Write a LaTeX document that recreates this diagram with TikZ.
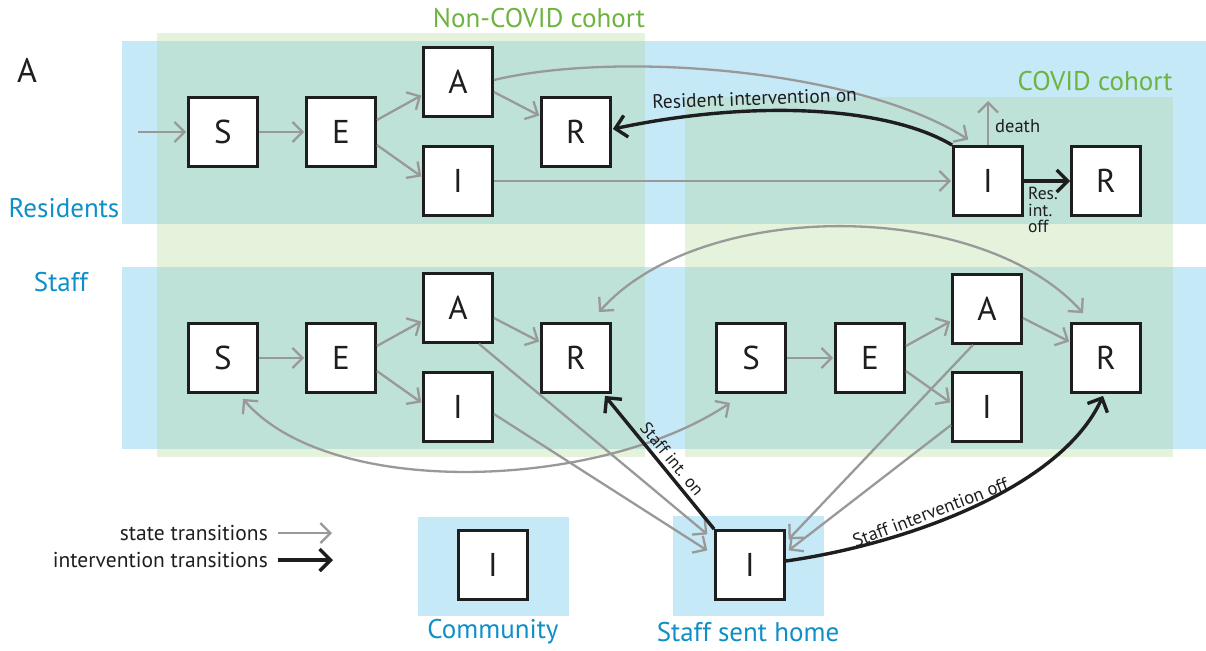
\documentclass[tikz,border=0pt]{standalone}
\usepackage{fontspec}
\setmainfont{PT Sans}
\usetikzlibrary{arrows.meta,calc}
\definecolor{bandblue}{HTML}{C5E9F7}
\definecolor{bandgreen}{HTML}{E5F2DC}
\definecolor{bandteal}{HTML}{BEE2D8}
\definecolor{txtblue}{HTML}{0E8FC8}
\definecolor{txtgreen}{HTML}{6DB33F}
\definecolor{arrgray}{HTML}{999999}
\definecolor{ink}{HTML}{1E1E1E}
\tikzset{
  gtip/.tip={Straight Barb[length=10pt,width=20pt]},
  ktip/.tip={Straight Barb[length=11pt,width=22pt]},
  box/.style={draw=ink, line width=2.8pt, fill=white, minimum width=69pt, minimum height=69pt, inner sep=0pt, font=\fontsize{33}{33}\selectfont, text=ink},
  st/.style={draw=arrgray, line width=2.3pt, -gtip, shorten >=1pt},
  stb/.style={draw=arrgray, line width=2.3pt, gtip-gtip},
  iv/.style={draw=ink, line width=3.4pt, -ktip},
  lbl/.style={text=txtblue, font=\fontsize{27}{27}\selectfont, inner sep=0pt},
  cohort/.style={text=txtgreen, font=\fontsize{27}{27}\selectfont, inner sep=0pt},
  small/.style={text=ink, font=\fontsize{18.5}{18.5}\selectfont, inner sep=1pt},
  leg/.style={text=ink, font=\fontsize{21.5}{21.5}\selectfont, inner sep=0pt, anchor=east},
}
\begin{document}
\begin{tikzpicture}[x=1pt,y=-1pt]
\useasboundingbox (0,0) rectangle (1206,650);
% bands
\fill[bandblue] (122,41) rectangle (1206,224);
\fill[bandblue] (122,267) rectangle (1206,449);
\fill[bandgreen] (157,33) rectangle (645,457);
\fill[bandgreen] (685,97) rectangle (1173,457);
\fill[bandteal] (157,41) rectangle (645,224);
\fill[bandteal] (157,267) rectangle (645,449);
\fill[bandteal] (685,97) rectangle (1173,224);
\fill[bandteal] (685,267) rectangle (1173,449);
\fill[bandblue] (418,517) rectangle (569,616);
\fill[bandblue] (673,516) rectangle (824,616);
% labels
\node[text=ink, font=\fontsize{34}{34}\selectfont, inner sep=0pt] (panel) at (27,70) {A};
\node[lbl] (resl) at (64,208) {Residents};
\node[lbl] (stfl) at (61,282) {Staff};
\node[cohort] (ncc) at (539,18) {Non-COVID cohort};
\node[cohort] (cc) at (1095,81) {COVID cohort};
\node[lbl] (coml) at (493,632) {Community};
\node[lbl] (homel) at (748,632) {Staff sent home};
% resident boxes
\node[box] (rS) at (223,132) {S};
\node[box] (rE) at (341,132) {E};
\node[box] (rA) at (458,82) {A};
\node[box] (rI) at (458,181) {I};
\node[box] (rR) at (576,132) {R};
\node[box] (cI) at (988,181) {I};
\node[box] (cR) at (1106,181) {R};
% staff boxes
\node[box] (sS) at (223,358) {S};
\node[box] (sE) at (341,358) {E};
\node[box] (sA) at (458,308) {A};
\node[box] (sI) at (458,407) {I};
\node[box] (sR) at (576,358) {R};
\node[box] (tS) at (751,358) {S};
\node[box] (tE) at (870,358) {E};
\node[box] (tA) at (987,309) {A};
\node[box] (tI) at (987,407) {I};
\node[box] (tR) at (1106,358) {R};
% community / home
\node[box] (mI) at (493,565) {I};
\node[box] (hI) at (750,565) {I};
% resident arrows
\coordinate (inr) at (138,132);
\draw[st] (inr) -- (rS.west);
\draw[st] (rS.east) -- (rE.west);
\draw[st] ($(rE.east)+(0,-12)$) -- ($(rA.west)+(0,13)$);
\draw[st] ($(rE.east)+(0,13)$) -- ($(rI.west)+(0,-4)$);
\draw[st] ($(rA.east)+(0,10)$) -- ($(rR.west)+(0,-16)$);
\draw[st] ($(rA.east)+(0,-2)$) .. controls (620,50) and (860,70) .. ($(cI.north west)+(17,-5)$);
\draw[st] (rI.east) -- (cI.west);
\draw[iv] (cI.north west) .. controls (890,108) and (760,98) .. ($(rR.east)+(1,-3)$)
   node[small, sloped, above=3pt, pos=0.66, font=\fontsize{19.5}{19.5}\selectfont] {Resident intervention on};
\coordinate (dth) at (988,100);
\draw[st] (cI.north) -- (dth);
\node[small, anchor=west] (dthl) at (994,126) {death};
\draw[iv] (cI.east) -- (cR.west);
\node[text=ink, font=\fontsize{17.5}{16.5}\selectfont, inner sep=0pt, align=left, anchor=north west] (rio) at (1028,187) {Res.\\int.\\off};
% staff arrows
\draw[st] (sS.east) -- (sE.west);
\draw[st] ($(sE.east)+(0,-12)$) -- ($(sA.west)+(0,13)$);
\draw[st] ($(sE.east)+(0,13)$) -- ($(sI.west)+(0,-4)$);
\draw[st] ($(sA.east)+(0,10)$) -- ($(sR.west)+(0,-16)$);
\draw[st] (tS.east) -- (tE.west);
\draw[st] ($(tE.east)+(0,-12)$) -- ($(tA.west)+(0,12)$);
\draw[st] ($(tE.east)+(0,13)$) -- ($(tI.west)+(0,-4)$);
\draw[st] ($(tA.east)+(0,9)$) -- ($(tR.west)+(0,-16)$);
\draw[stb] ($(sR.north)+(23,-10)$) .. controls (700,198) and (980,198) .. ($(tR.north)+(-23,-9)$);
\draw[stb] ($(sS.south)+(20,5)$) .. controls (330,500) and (600,490) .. ($(tS.south)+(-21,9)$);
\draw[st] ($(sA.south)+(21,0)$) -- ($(hI.west)+(-6,-30)$);
\draw[st] ($(sI.east)+(0,7)$) -- ($(hI.west)+(-6,-14)$);
\draw[st] ($(tA.south)+(-14,0)$) -- ($(hI.east)+(2,-25)$);
\draw[st] ($(tI.west)+(0,18)$) -- ($(hI.east)+(2,-14)$);
\draw[iv] (hI.north west) -- ($(sR.south)+(29,2)$)
   node[small, sloped, above=3pt, pos=0.47, font=\fontsize{17.5}{17.5}\selectfont] {Staff int. on};
\draw[iv] ($(hI.east)+(0,-4)$) .. controls (900,545) and (1060,490) .. ($(tR.south)+(-3,2)$)
   node[small, sloped, above=2pt, pos=0.40] {Staff intervention off};
% legend
\node[leg] (l1) at (268,533) {state transitions};
\node[leg] (l2) at (268,560) {intervention transitions};
\coordinate (l1a) at (278,533);
\coordinate (l1b) at (333,533);
\coordinate (l2a) at (278,560);
\coordinate (l2b) at (333,560);
\draw[st] (l1a) -- (l1b);
\draw[iv] (l2a) -- (l2b);
\end{tikzpicture}
\end{document}
